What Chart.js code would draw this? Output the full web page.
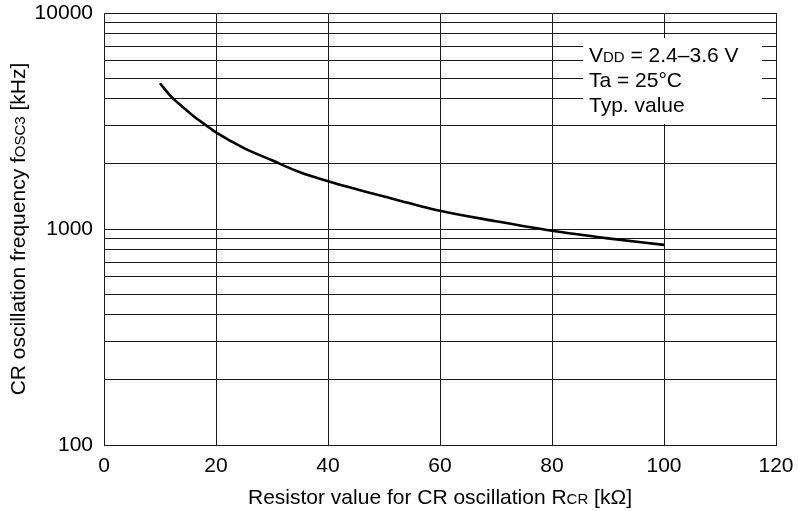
<!DOCTYPE html>
<html>
<head>
<meta charset="utf-8">
<script src="https://cdn.jsdelivr.net/npm/chart.js@4"></script>
<style>
  html, body { margin: 0; padding: 0; background: #fff; }
  #chart { display: block; }
</style>
</head>
<body>
<canvas id="chart" width="798" height="511"></canvas>
<script>
// resistor value [kOhm] and read-off frequency [kHz]
const rValues = [10, 12, 14, 16, 18, 20, 25, 30, 35, 40, 50, 60, 70, 80, 90, 100];
const fValues = [4730, 4100, 3680, 3330, 3050, 2800, 2370, 2080, 1830, 1665, 1415, 1215, 1086, 981, 905, 844];

const xTicks = [0, 20, 40, 60, 80, 100, 120];
const yGrid = [100, 200, 300, 400, 500, 600, 700, 800, 900,
               1000, 2000, 3000, 4000, 5000, 6000, 7000, 8000, 9000, 10000];
const yLabels = [100, 1000, 10000];

const legendLines = [
    [["V", 21], ["DD", 15], [" = 2.4\u20133.6 V", 21]],
    [["Ta = 25\u00b0C", 21]],
    [["Typ. value", 21]],
];
const xTitle = [["Resistor value for CR oscillation R", 21], ["CR", 15], [" [k\u03a9]", 21]];
const yTitle = [["CR oscillation frequency f", 21], ["OSC3", 15], [" [kHz]", 21]];

const FONT = "'Liberation Sans', Arial, Helvetica, sans-serif";
const gridColor = "#1a1a1a";

Chart.defaults.font.family = FONT;
Chart.defaults.font.size = 21;
Chart.defaults.color = "#000";

// draw text made of pieces with different sizes on one baseline
function drawRich(c, segs, x, y, align) {
    let total = 0;
    for (const [t, s] of segs) {
        c.font = s + "px " + FONT;
        total += c.measureText(t).width;
    }
    let cx = align === "center" ? x - total / 2 : x;
    c.textAlign = "left";
    c.textBaseline = "alphabetic";
    for (const [t, s] of segs) {
        c.font = s + "px " + FONT;
        c.fillText(t, cx, y);
        cx += c.measureText(t).width;
    }
}

const annot = {
    id: "annot",
    afterDraw(chart) {
        const c = chart.ctx;
        const a = chart.chartArea;
        c.save();
        // condition box over the grid
        c.fillStyle = "#fff";
        c.fillRect(583, 38, 179, 86);
        c.fillStyle = "#000";
        const base = [62, 87, 112];
        legendLines.forEach((ln, i) => drawRich(c, ln, 589, base[i], "left"));

        drawRich(c, xTitle, (a.left + a.right) / 2, 504, "center");

        c.translate(18, (a.top + a.bottom) / 2);
        c.rotate(-Math.PI / 2);
        drawRich(c, yTitle, 0, 7, "center");
        c.restore();
    },
};

const ctx = document.getElementById("chart").getContext("2d");
new Chart(ctx, {
    type: "line",
    data: {
        datasets: [{
            data: rValues.map((r, i) => ({ x: r, y: fValues[i] })),
            borderColor: "#000",
            borderWidth: 2.6,
            pointRadius: 0,
            fill: false,
            cubicInterpolationMode: "monotone",
        }],
    },
    options: {
        responsive: false,
        animation: false,
        layout: { padding: { left: 0, top: 13, right: 22, bottom: 0 } },
        plugins: {
            legend: { display: false },
            tooltip: { enabled: false },
        },
        scales: {
            x: {
                type: "linear",
                min: 0,
                max: 120,
                afterBuildTicks: (s) => { s.ticks = xTicks.map(v => ({ value: v })); },
                afterFit: (s) => { s.height = 66; s.paddingLeft = 0; s.paddingRight = 0; },
                grid: { color: gridColor, lineWidth: 1, drawTicks: false },
                border: { color: gridColor, width: 1 },
                ticks: { padding: 9, maxRotation: 0, autoSkip: false, font: { size: 21 } },
            },
            y: {
                type: "logarithmic",
                min: 100,
                max: 10000,
                afterBuildTicks: (s) => { s.ticks = yGrid.map(v => ({ value: v })); },
                afterFit: (s) => { s.width = 104; s.paddingTop = 0; s.paddingBottom = 0; },
                grid: { color: gridColor, lineWidth: 1, drawTicks: false },
                border: { color: gridColor, width: 1 },
                ticks: {
                    padding: 11,
                    autoSkip: false,
                    font: { size: 21 },
                    callback: (v) => yLabels.includes(v) ? String(v) : "",
                },
            },
        },
    },
    plugins: [annot],
});
</script>
</body>
</html>
